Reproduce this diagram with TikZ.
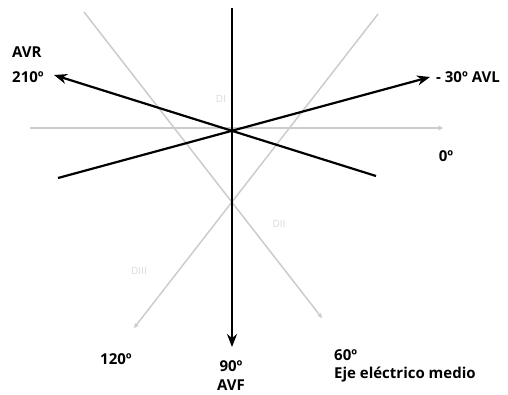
\documentclass[tikz,border=0pt]{standalone}
\usepackage{fontspec}
\setmainfont{Open Sans}
\usetikzlibrary{arrows.meta}

\begin{document}
\begin{tikzpicture}[
    x=1pt, y=-1pt,
    axis/.style={line width=2.2pt, -{Stealth[length=13pt, width=10pt]}},
    guide/.style={line width=1.5pt, gray!40, -{Stealth[length=5pt, width=5pt]}},
    deg/.style={font=\bfseries\fontsize{15}{16}\selectfont, inner sep=0pt},
    lead/.style={font=\fontsize{10}{11}\selectfont, text=gray!30, inner sep=0pt}
]
\useasboundingbox (0,0) rectangle (508,394);

% centre of the axes and the end points
\coordinate (O) at (232,130);
\coordinate (top) at (232,8);
\coordinate (avf) at (232,347);
\coordinate (west) at (30,128);
\coordinate (east) at (443,128);
\coordinate (g60a) at (84,12);
\coordinate (g60b) at (322,318);
\coordinate (g120a) at (378,14);
\coordinate (g120b) at (134,328);
\coordinate (avr) at (54,75);
\coordinate (avrEnd) at (376,176);
\coordinate (avl) at (430,77);
\coordinate (avlEnd) at (58,178);

% grey guide lines
\draw[guide] (west) -- (east);
\draw[guide] (g60a) -- (g60b);
\draw[guide] (g120a) -- (g120b);

\node[lead] (dI) at (221,99) {DI};
\node[lead] (dII) at (279,224) {DII};
\node[lead] (dIII) at (139,271) {DIII};

% black axes
\draw[axis] (top) -- (avf);
\draw[axis] (avrEnd) -- (avr);
\draw[axis] (avlEnd) -- (avl);

% labels
\node[deg, anchor=west] (lblAvr) at (12,52) {AVR};
\node[deg, anchor=west] (lbl210) at (12,77) {210º};
\node[deg, anchor=west] (lblAvl) at (436,77) {- 30º AVL};
\node[deg] (lbl0) at (446,156) {0º};
\node[deg] (lbl120) at (116,359) {120º};
\node[deg] (lbl90) at (231,366) {90º};
\node[deg] (lblAvf) at (231,385) {AVF};
\node[deg, anchor=west] (lbl60) at (334,355) {60º};
\node[deg, anchor=west] (lblEje) at (334,375) {Eje eléctrico medio};
\end{tikzpicture}
\end{document}
